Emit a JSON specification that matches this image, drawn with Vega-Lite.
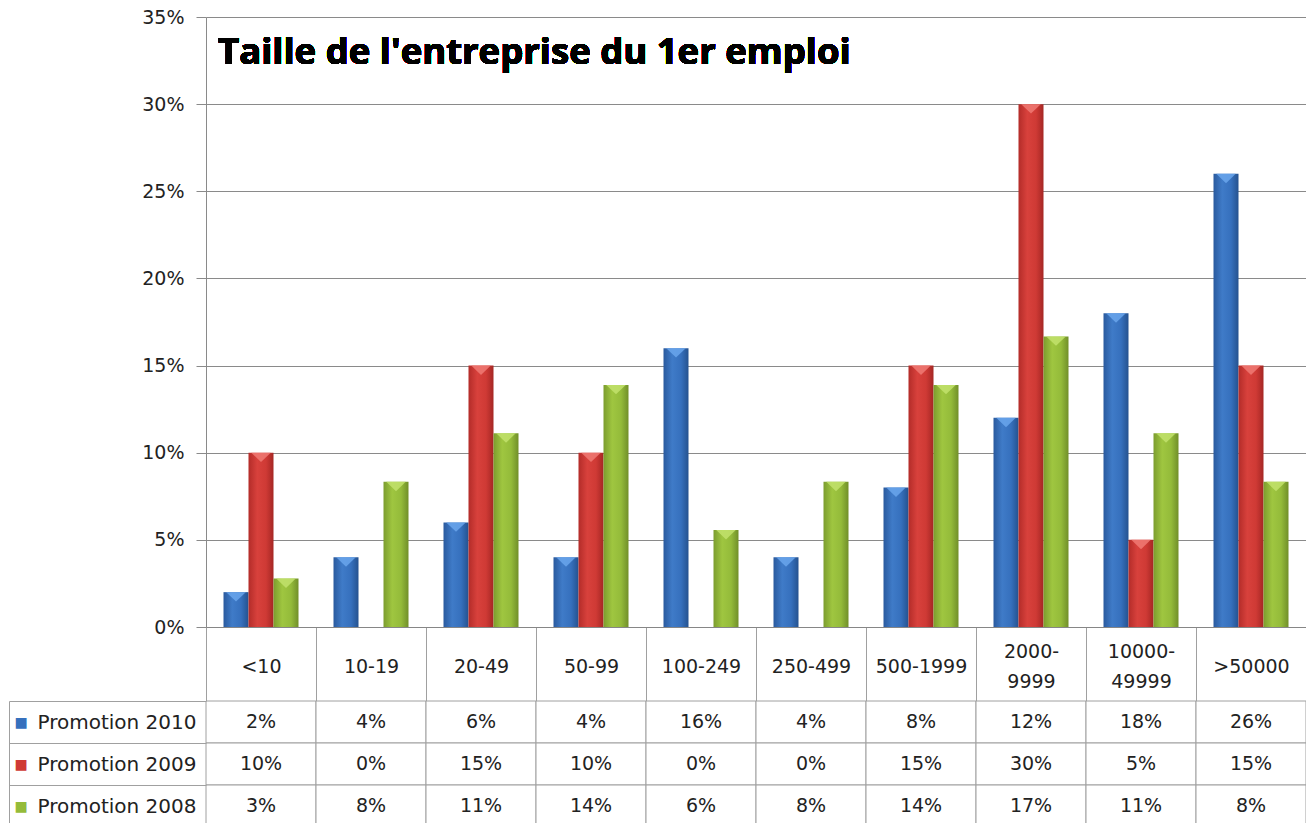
{
  "$schema": "https://vega.github.io/schema/vega-lite/v6.json",
  "padding": {"left": 8, "top": 8, "right": 1, "bottom": 0},
  "background": "white",
  "config": {"view": {"stroke": null}, "font": "DejaVu Sans"},
  "datasets": {
    "d": [
      {"cat": "<10", "series": "Promotion 2010", "value": 0.02},
      {"cat": "10-19", "series": "Promotion 2010", "value": 0.04},
      {"cat": "20-49", "series": "Promotion 2010", "value": 0.06},
      {"cat": "50-99", "series": "Promotion 2010", "value": 0.04},
      {"cat": "100-249", "series": "Promotion 2010", "value": 0.16},
      {"cat": "250-499", "series": "Promotion 2010", "value": 0.04},
      {"cat": "500-1999", "series": "Promotion 2010", "value": 0.08},
      {"cat": "2000-9999", "series": "Promotion 2010", "value": 0.12},
      {"cat": "10000-49999", "series": "Promotion 2010", "value": 0.18},
      {"cat": ">50000", "series": "Promotion 2010", "value": 0.26},
      {"cat": "<10", "series": "Promotion 2009", "value": 0.10},
      {"cat": "10-19", "series": "Promotion 2009", "value": 0},
      {"cat": "20-49", "series": "Promotion 2009", "value": 0.15},
      {"cat": "50-99", "series": "Promotion 2009", "value": 0.10},
      {"cat": "100-249", "series": "Promotion 2009", "value": 0},
      {"cat": "250-499", "series": "Promotion 2009", "value": 0},
      {"cat": "500-1999", "series": "Promotion 2009", "value": 0.15},
      {"cat": "2000-9999", "series": "Promotion 2009", "value": 0.30},
      {"cat": "10000-49999", "series": "Promotion 2009", "value": 0.05},
      {"cat": ">50000", "series": "Promotion 2009", "value": 0.15},
      {"cat": "<10", "series": "Promotion 2008", "value": 0.0278},
      {"cat": "10-19", "series": "Promotion 2008", "value": 0.0833},
      {"cat": "20-49", "series": "Promotion 2008", "value": 0.1111},
      {"cat": "50-99", "series": "Promotion 2008", "value": 0.1389},
      {"cat": "100-249", "series": "Promotion 2008", "value": 0.0556},
      {"cat": "250-499", "series": "Promotion 2008", "value": 0.0833},
      {"cat": "500-1999", "series": "Promotion 2008", "value": 0.1389},
      {"cat": "2000-9999", "series": "Promotion 2008", "value": 0.1667},
      {"cat": "10000-49999", "series": "Promotion 2008", "value": 0.1111},
      {"cat": ">50000", "series": "Promotion 2008", "value": 0.0833}
    ]
  },
  "bounds": "flush",
  "spacing": 74,
  "vconcat": [
    {
      "width": 1100,
      "height": 610,
      "data": {"name": "d"},
      "encoding": {
        "x": {
          "field": "cat", "type": "nominal",
          "sort": ["<10","10-19","20-49","50-99","100-249","250-499","500-1999","2000-9999","10000-49999",">50000"],
          "scale": {"paddingInner": 0, "paddingOuter": 0},
          "axis": {
            "title": null, "labelAngle": 0, "labelFontSize": 19, "labelColor": "#222222",
            "tickBand": "extent", "tickSize": 74, "tickColor": "#a0a0a0", "domainColor": "#868686",
            "labelPadding": {"condition": {"test": "datum.value === '2000-9999' || datum.value === '10000-49999'", "value": -50}, "value": -35},
            "labelBaseline": "middle", "labelLineHeight": 30,
            "labelExpr": "datum.value === '2000-9999' ? ['2000-', '9999'] : datum.value === '10000-49999' ? ['10000-', '49999'] : datum.label"
          }
        }
      },
      "layer": [
        {
          "mark": {"type": "bar"},
          "encoding": {
            "xOffset": {
              "field": "series",
              "sort": ["Promotion 2010","Promotion 2009","Promotion 2008"],
              "scale": {"paddingOuter": 0.7, "paddingInner": 0}
            },
            "y": {
              "field": "value", "type": "quantitative",
              "scale": {"domain": [0, 0.35], "nice": false},
              "axis": {
                "title": null, "format": ".0%", "values": [0, 0.05, 0.1, 0.15, 0.2, 0.25, 0.3, 0.35],
                "labelFontSize": 19, "labelColor": "#222222", "tickSize": 10, "labelPadding": 12,
                "grid": true, "gridColor": "#8a8a8a", "tickColor": "#8a8a8a", "domainColor": "#8a8a8a"
              }
            },
            "fill": {
              "condition": [
                {"test": "datum.series === 'Promotion 2010'", "value": {"gradient": "linear", "x1": 0, "x2": 1, "y1": 0, "y2": 0, "stops": [{"offset": 0, "color": "#2a5a9e"}, {"offset": 0.35, "color": "#3f7bc8"}, {"offset": 0.7, "color": "#3670bd"}, {"offset": 1, "color": "#25528f"}]}},
                {"test": "datum.series === 'Promotion 2009'", "value": {"gradient": "linear", "x1": 0, "x2": 1, "y1": 0, "y2": 0, "stops": [{"offset": 0, "color": "#b32c29"}, {"offset": 0.35, "color": "#d8413c"}, {"offset": 0.7, "color": "#cf3a35"}, {"offset": 1, "color": "#a52724"}]}}
              ],
              "value": {"gradient": "linear", "x1": 0, "x2": 1, "y1": 0, "y2": 0, "stops": [{"offset": 0, "color": "#7c9d2e"}, {"offset": 0.35, "color": "#9fc640"}, {"offset": 0.7, "color": "#94bb3a"}, {"offset": 1, "color": "#718f29"}]}
            }
          }
        },
        {
          "transform": [{"filter": "datum.value > 0"}],
          "mark": {"type": "point", "filled": true, "shape": "M-0.78,0L0.78,0L0,0.75Z", "size": 625, "opacity": 0.85, "strokeWidth": 0},
          "encoding": {
            "xOffset": {
              "field": "series",
              "sort": ["Promotion 2010","Promotion 2009","Promotion 2008"],
              "scale": {"paddingOuter": 0.7, "paddingInner": 0}
            },
            "y": {"field": "value", "type": "quantitative"},
            "fill": {
              "condition": [
                {"test": "datum.series === 'Promotion 2010'", "value": "#6aa6ec"},
                {"test": "datum.series === 'Promotion 2009'", "value": "#f07a74"}
              ],
              "value": "#c2e26c"
            }
          }
        },
        {
          "mark": {"type": "text", "text": "Taille de l'entreprise du 1er emploi", "align": "left", "baseline": "alphabetic", "dx": 12, "dy": 47, "fontSize": 36.5, "fontWeight": "bold", "font": "Open Sans", "fill": "#000000"},
          "encoding": {
            "x": {"datum": "<10", "bandPosition": 0},
            "y": {"datum": 0.35}
          }
        }
      ]
    },
    {
      "width": 1100,
      "height": 126,
      "data": {"name": "d"},
      "layer": [
        {
          "layer": [
            {
              "mark": {"type": "rect", "fill": "white", "stroke": "#a0a0a0", "strokeWidth": 1},
              "encoding": {
                "x": {"field": "cat", "type": "nominal", "sort": ["<10","10-19","20-49","50-99","100-249","250-499","500-1999","2000-9999","10000-49999",">50000"], "scale": {"paddingInner": 0, "paddingOuter": 0}, "axis": null},
                "y": {"field": "series", "type": "nominal", "sort": ["Promotion 2010","Promotion 2009","Promotion 2008"], "scale": {"paddingInner": 0, "paddingOuter": 0},
                  "axis": {"orient": "left", "title": null, "domain": false, "tickBand": "extent", "tickSize": 197, "tickColor": "#a0a0a0", "labelAlign": "left", "labelPadding": -28, "labelFontSize": 20, "labelColor": "#222222"}}
              }
            },
            {
              "mark": {"type": "text", "fontSize": 19, "color": "#222222"},
              "encoding": {
                "x": {"field": "cat", "type": "nominal", "sort": ["<10","10-19","20-49","50-99","100-249","250-499","500-1999","2000-9999","10000-49999",">50000"]},
                "y": {"field": "series", "type": "nominal", "sort": ["Promotion 2010","Promotion 2009","Promotion 2008"]},
                "text": {"field": "value", "format": ".0%"}
              }
            }
          ]
        },
        {
          "mark": {"type": "text", "opacity": 0},
          "encoding": {
            "y": {"field": "series", "type": "nominal", "sort": ["Promotion 2010","Promotion 2009","Promotion 2008"], "scale": {"paddingInner": 0, "paddingOuter": 0},
              "axis": {"orient": "left", "title": null, "offset": 197, "ticks": false, "domain": true, "domainColor": "#a0a0a0", "labelExpr": "'■'", "labelAlign": "left", "labelPadding": -5, "labelFontSize": 14, "labelFont": "DejaVu Sans",
                "labelColor": {"condition": [{"test": "datum.value === 'Promotion 2010'", "value": "#3670bd"}, {"test": "datum.value === 'Promotion 2009'", "value": "#cf3a35"}], "value": "#94bb3a"}}},
            "text": {"value": ""}
          }
        }
      ],
      "resolve": {"scale": {"y": "independent"}}
    }
  ]
}
